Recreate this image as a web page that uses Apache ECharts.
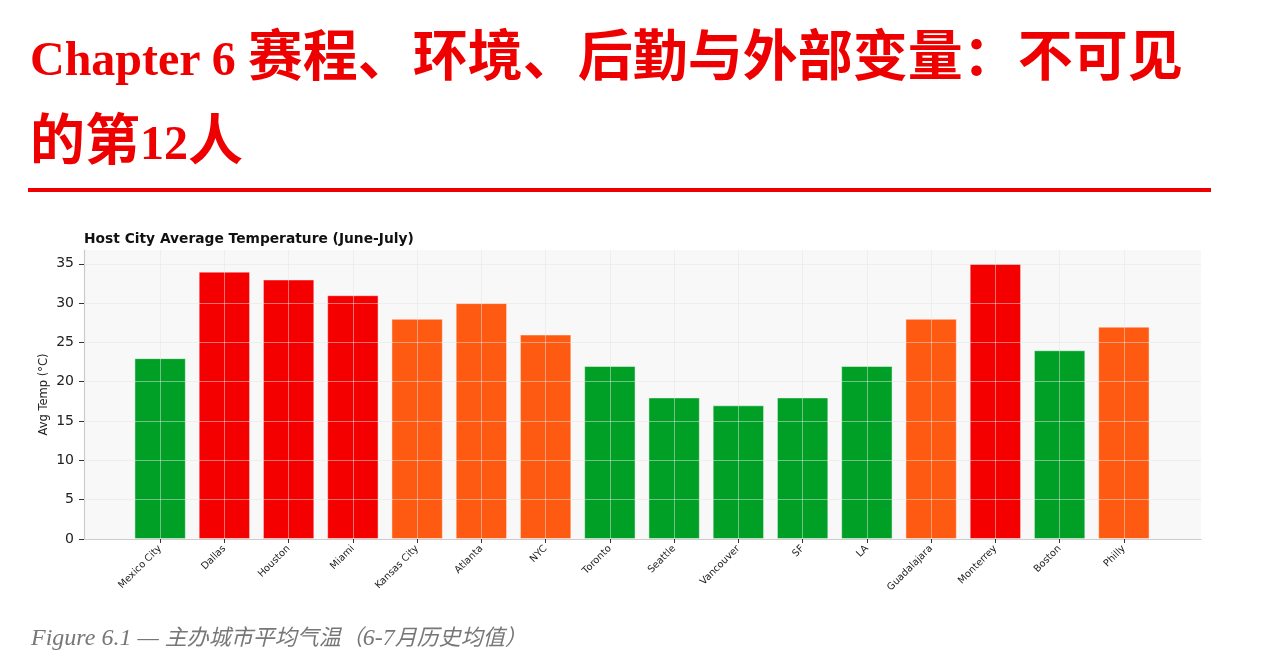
<!DOCTYPE html>
<html>
<head>
<meta charset="utf-8">
<script src="https://cdn.jsdelivr.net/npm/echarts@6/dist/echarts.min.js"></script>
<style>
  html, body { margin: 0; padding: 0; background: #fff; width: 1288px; height: 668px; overflow: hidden; }
  #chart { position: absolute; left: 0; top: 0; width: 1288px; height: 668px; }
  #heading { position: absolute; left: 30px; top: 16px; margin: 0; font-family: "Liberation Serif", "Noto Sans CJK SC", serif; font-weight: bold; font-size: 55px; line-height: 82px; color: #ee0000; white-space: nowrap; z-index: 2; }
  #heading .lat { font-size: 48px; }
  #rule { position: absolute; left: 28px; top: 188px; width: 1183px; height: 4px; background: #ee0000; z-index: 2; }
  #caption { position: absolute; left: 31px; top: 622px; margin: 0; font-family: "Liberation Serif", "Noto Sans CJK SC", serif; font-style: italic; font-size: 22px; line-height: 30px; color: #777777; white-space: nowrap; z-index: 2; }
  #caption .lat { font-size: 24px; }
</style>
</head>
<body>
<div id="chart"></div>
<h1 id="heading"><span class="lat">Chapter 6 </span>赛程、环境、后勤与外部变量：不可见<br>的第<span class="lat">12</span>人</h1>
<div id="rule"></div>
<p id="caption"><span class="lat">Figure 6.1 — </span>主办城市平均气温（<span class="lat">6-7</span>月历史均值）</p>
<script>
const cities = ["Mexico City", "Dallas", "Houston", "Miami", "Kansas City", "Atlanta", "NYC", "Toronto", "Seattle", "Vancouver", "SF", "LA", "Guadalajara", "Monterrey", "Boston", "Philly"];
const avgTemps = [23, 34, 33, 31, 28, 30, 26, 22, 18, 17, 18, 22, 28, 35, 24, 27];
const heatLevels = ["mild", "hot", "hot", "hot", "warm", "warm", "warm", "mild", "mild", "mild", "mild", "mild", "warm", "hot", "mild", "warm"];
const yTicks = [0, 5, 10, 15, 20, 25, 30, 35];
const chartTitle = "Host City Average Temperature (June-July)";
const yAxisTitle = "Avg Temp (°C)";

const levelColors = { mild: "#00a027", warm: "#ff5a12", hot: "#f50000" };
const yMax = 36.75;
const gridColor = "rgba(228,228,228,0.5)";

const chart = echarts.init(document.getElementById("chart"), null, { renderer: "canvas" });

const option = {
  animation: false,
  backgroundColor: "#ffffff",
  title: {
    text: chartTitle,
    left: 79, top: 227,
    textStyle: { fontFamily: "DejaVu Sans", fontWeight: "bold", fontSize: 13.8, color: "#111" }
  },
  grid: [
    { left: 84, right: 87, top: 250, bottom: 129, show: true, backgroundColor: "#f8f8f8", borderWidth: 0, containLabel: false },
    { left: 128, right: 132, top: 250, bottom: 129, show: false, containLabel: false }
  ],
  xAxis: [
    { type: "value", gridIndex: 0, min: 0, max: 1, show: true,
      axisLine: { show: true, lineStyle: { color: "#cccccc", width: 1.2 } },
      axisTick: { show: false }, axisLabel: { show: false }, splitLine: { show: false } },
    { type: "category", gridIndex: 1, data: cities, boundaryGap: true,
      axisLine: { show: false },
      axisTick: { show: true, alignWithLabel: true, length: 4, lineStyle: { color: "#333" } },
      axisLabel: { rotate: 45, interval: 0, margin: 8, fontFamily: "DejaVu Sans", fontSize: 9.8, color: "#1a1a1a" },
      splitLine: { show: false } }
  ],
  yAxis: [
    { type: "value", gridIndex: 0, min: 0, max: yMax,
      name: yAxisTitle, nameLocation: "middle", nameGap: 34, nameRotate: 90, nameMoveOverlap: false,
      nameTextStyle: { fontFamily: "DejaVu Sans", fontSize: 11.5, color: "#222" },
      axisLine: { show: true, lineStyle: { color: "#cccccc", width: 1.2 } },
      axisTick: { show: true, length: 5, customValues: yTicks, lineStyle: { color: "#333" } },
      axisLabel: { margin: 10, customValues: yTicks, fontFamily: "DejaVu Sans", fontSize: 14, color: "#222" },
      splitLine: { show: false } },
    { type: "value", gridIndex: 1, min: 0, max: yMax, show: false, splitLine: { show: false } }
  ],
  series: [
    {
      type: "bar", xAxisIndex: 1, yAxisIndex: 1, z: 2,
      barCategoryGap: "20%",
      data: avgTemps.map((v, i) => ({
        value: v,
        itemStyle: { color: levelColors[heatLevels[i]], borderColor: "rgba(255,255,255,0.45)", borderWidth: 1 }
      })),
      markLine: {
        silent: true, symbol: "none", z: 5,
        label: { show: false },
        lineStyle: { color: gridColor, type: "solid", width: 1 },
        data: cities.map(c => ({ xAxis: c }))
      }
    },
    {
      type: "line", xAxisIndex: 0, yAxisIndex: 0, data: [], z: 5,
      markLine: {
        silent: true, symbol: "none", z: 5,
        label: { show: false },
        lineStyle: { color: gridColor, type: "solid", width: 1 },
        data: yTicks.filter(t => t > 0).map(t => ({ yAxis: t }))
      }
    }
  ]
};
chart.setOption(option);
</script>
</body>
</html>
